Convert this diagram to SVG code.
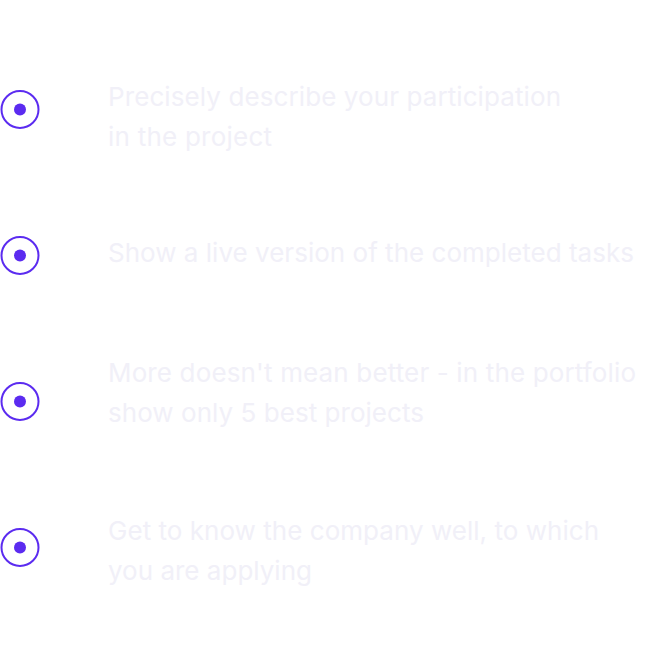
<svg xmlns="http://www.w3.org/2000/svg" width="670" height="658" viewBox="0 0 670 658">
<style>
.ring{fill:none;stroke:#5b2bf0;stroke-width:2}
.dot{fill:#5b2bf0}
.t{font-family:Inter,"Noto Sans","Liberation Sans",sans-serif;font-size:26px;fill:#f1f0f8}
</style>
<rect width="670" height="658" fill="#ffffff"/>
<g id="item1">
<circle class="ring" cx="20" cy="109.5" r="18.5"/><circle class="dot" cx="20" cy="109.5" r="6"/>
<text class="t" x="108" y="106" textLength="453">Precisely describe your participation</text>
<text class="t" x="108" y="146" textLength="164">in the project</text>
</g>
<g id="item2">
<circle class="ring" cx="20" cy="255.5" r="18.5"/><circle class="dot" cx="20" cy="255.5" r="6"/>
<text class="t" x="108" y="262" textLength="526">Show a live version of the completed tasks</text>
</g>
<g id="item3">
<circle class="ring" cx="20" cy="401.5" r="18.5"/><circle class="dot" cx="20" cy="401.5" r="6"/>
<text class="t" x="108" y="382" textLength="528">More doesn't mean better - in the portfolio</text>
<text class="t" x="108" y="422" textLength="316">show only 5 best projects</text>
</g>
<g id="item4">
<circle class="ring" cx="20" cy="547.5" r="18.5"/><circle class="dot" cx="20" cy="547.5" r="6"/>
<text class="t" x="108" y="540" textLength="491">Get to know the company well, to which</text>
<text class="t" x="108" y="580" textLength="204">you are applying</text>
</g>
</svg>
